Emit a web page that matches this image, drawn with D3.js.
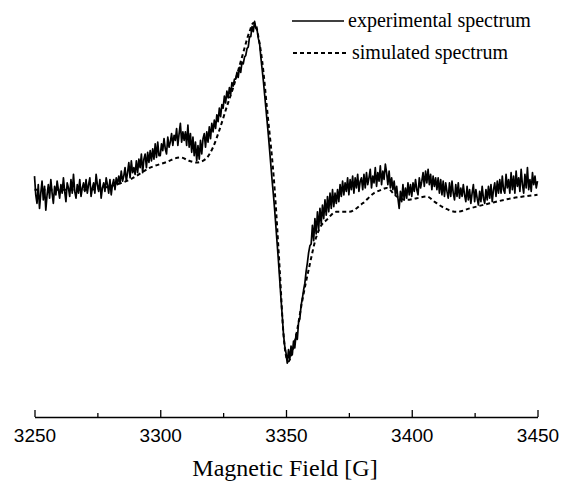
<!DOCTYPE html>
<html>
<head>
<meta charset="utf-8">
<script src="https://cdn.jsdelivr.net/npm/d3@7"></script>
<style>
    body { margin: 0; background: #fff; }
</style>
</head>
<body>
<div id="canvas"></div>
<script>
"use strict"

/*** DATA ***/
/* experimental spectrum, sampled every 0.5 G from 3250 G (intensity in a.u.) */
let expStart = 3250
let expStep = 0.5
let expIntensity = [
    7, -4, -9, 2, -12, -3, 4, -7, 1, -13, -4, 2, -6, 5, -3, -9, 1, -4, 4, -1,
    -6, 2, -3, 6, -2, -8, 3, 0, -5, 5, -3, 8, -2, -6, 2, -3, 5, -5, 0, 3,
    -2, 5, -3, 2, 6, -5, 0, 3, -3, 8, 2, -2, 5, -6, 0, 3, -2, 6, 2, -3,
    5, -4, 2, 5, -1, 6, 2, 7, 3, 10, 4, 7, 12, 4, 9, 15, 6, 16, 9, 12,
    8, 16, 9, 17, 12, 20, 9, 17, 20, 12, 21, 15, 22, 16, 23, 17, 26, 18, 27, 19,
    19, 26, 22, 29, 23, 20, 30, 24, 27, 32, 25, 31, 28, 35, 25, 32, 38, 27, 33, 28,
    33, 25, 37, 24, 32, 21, 30, 19, 27, 16, 25, 17, 28, 20, 29, 32, 24, 33, 27, 36,
    29, 38, 33, 40, 35, 43, 39, 47, 42, 49, 47, 54, 50, 57, 53, 59, 55, 62, 60, 64,
    64, 68, 65, 71, 68, 74, 73, 77, 78, 82, 83, 89, 89, 95, 92, 98, 94, 93, 88, 85,
    77, 70, 63, 55, 47, 39, 31, 22, 13, 4, -4, -13, -23, -33, -43, -54, -65, -75, -86, -93,
    -97, -103, -95, -101, -93, -98, -90, -94, -86, -89, -79, -77, -69, -65, -60, -56, -49, -44, -38, -34,
    -33, -22, -31, -18, -27, -14, -24, -12, -21, -10, -18, -7, -16, -5, -14, -3, -12, -1, -11, -3,
    -9, -1, -8, 2, -5, 4, -4, 3, -2, 6, -4, 5, -1, 7, -3, 6, 0, 8, -2, 4,
    6, -1, 8, 0, 9, 2, 6, 11, 0, 7, 3, 12, 1, 9, 4, 13, 2, 10, 5, 14,
    9, 2, 10, 0, 6, -1, 4, -4, 1, -6, -12, -2, -8, 2, -7, 0, -6, 3, -4, 2,
    -5, 3, -2, 5, -1, -4, 6, 0, 4, 9, 1, 10, 3, 11, 2, 8, -1, 7, 1, 6,
    -1, 6, -3, 5, -4, 4, -5, 3, -2, -6, 3, -5, 4, -3, -7, 2, -5, 3, -6, 0,
    -5, 2, -4, -8, 1, -7, -1, -9, -3, 2, -8, -1, -6, -10, -2, -8, 1, -6, -9, -1,
    -7, 1, -6, 2, -8, -1, 3, -5, 4, -3, 5, -3, 7, -1, -3, 8, 0, 5, -3, 9,
    -1, 7, -3, 10, 1, 6, -2, 11, 2, -3, 8, 0, 12, -1, 5, -2, 9, 2, 7, 0,
    4
]

/* simulated spectrum */
let simField = [
    3250, 3260, 3270, 3280, 3288, 3296, 3302, 3308, 3311.5, 3314.5,
    3318, 3321, 3323.5, 3326.5, 3329, 3332.5, 3335.5, 3337, 3338, 3339,
    3340.5, 3342.5, 3345.5, 3347.5, 3349, 3350.2, 3351, 3352.2, 3354, 3356.5,
    3359.3, 3362, 3364, 3366, 3370, 3375, 3380.5, 3385, 3388, 3390,
    3394, 3398, 3402, 3406, 3409, 3412, 3418, 3423, 3431, 3440, 3450
]
let simIntensity = [
    -1, -1, -1, 1, 5, 12, 15, 18, 16, 15,
    17, 24, 34, 48, 59, 77, 92, 97, 96, 89,
    75, 46, -1, -48, -86, -100, -102, -98, -87, -66,
    -46, -29, -22, -19, -14, -14, -9, -3, -1, 0,
    -5, -7, -6, -5, -8, -11, -14, -12, -9, -6, -4
]

let majorTicks = [3250, 3300, 3350, 3400, 3450]
let minorTicks = [3275, 3325, 3375, 3425]
let legendLabels = ["experimental spectrum", "simulated spectrum"]
let axisTitle = "Magnetic Field [G]"

/*** CANVAS SETUP ***/
let svgWidth = 561
let svgHeight = 481

let svg = d3.select("#canvas")
    .append("svg")
    .attr("width", svgWidth)
    .attr("height", svgHeight)
    .style("display", "block")

svg.append("rect")
    .attr("width", svgWidth)
    .attr("height", svgHeight)
    .attr("fill", "#fff")

/*** SCALES ***/
let xScale = d3.scaleLinear()
    .domain([3250, 3450])
    .range([34.5, 537.5])

let yScale = d3.scaleLinear()
    .domain([-100, 100])         // arbitrary units, baseline at 0
    .range([358, 18])

let axisY = 417

/* build point lists */
let expData = expIntensity.map(function (v, i) {
    return { field: expStart + i * expStep, value: v }
})
let simData = simIntensity.map(function (v, i) {
    return { field: simField[i], value: v }
})

let line = d3.line()
    .x(function (d) { return xScale(d.field) })
    .y(function (d) { return yScale(d.value) })

/*** SPECTRA ***/
svg.append("path")
    .datum(simData)
    .attr("fill", "none")
    .attr("stroke", "#000")
    .attr("stroke-width", 2)
    .attr("stroke-dasharray", "4,3")
    .attr("d", line.curve(d3.curveMonotoneX))

svg.append("path")
    .datum(expData)
    .attr("fill", "none")
    .attr("stroke", "#000")
    .attr("stroke-width", 1.7)
    .attr("stroke-linejoin", "round")
    .attr("d", line.curve(d3.curveLinear))

/*** X AXIS ***/
let xAxis = d3.axisBottom(xScale)
    .tickValues(majorTicks)
    .tickSizeInner(-7)           // ticks point up into the plot
    .tickSizeOuter(0)
    .tickFormat(d3.format("d"))

let gx = svg.append("g")
    .attr("transform", "translate(0," + axisY + ")")
    .call(xAxis)

gx.select(".domain").attr("stroke-width", 1.3)
gx.selectAll(".tick line").attr("stroke-width", 1.3)
gx.selectAll(".tick text")
    .attr("font-family", "'Liberation Sans', Arial, sans-serif")
    .attr("font-size", "19px")
    .attr("fill", "#000")
    .attr("y", 25)
    .attr("dy", null)

let gxMinor = svg.append("g")
    .attr("transform", "translate(0," + axisY + ")")
    .call(d3.axisBottom(xScale).tickValues(minorTicks).tickSizeInner(-4).tickSizeOuter(0).tickFormat(""))

gxMinor.select(".domain").remove()
gxMinor.selectAll(".tick line").attr("stroke-width", 1.3)

svg.append("text")
    .attr("x", 285)
    .attr("y", 476)
    .attr("text-anchor", "middle")
    .attr("font-family", "'Liberation Serif', 'Times New Roman', serif")
    .attr("font-size", "24px")
    .attr("fill", "#000")
    .text(axisTitle)

/*** LEGEND ***/
let legend = svg.append("g")

legend.append("line")
    .attr("x1", 292).attr("x2", 344)
    .attr("y1", 21).attr("y2", 21)
    .attr("stroke", "#000")
    .attr("stroke-width", 1.5)

legend.append("text")
    .attr("x", 348)
    .attr("y", 27)
    .attr("font-family", "'Liberation Serif', 'Times New Roman', serif")
    .attr("font-size", "20px")
    .attr("fill", "#000")
    .text(legendLabels[0])

legend.append("line")
    .attr("x1", 293).attr("x2", 346)
    .attr("y1", 53).attr("y2", 53)
    .attr("stroke", "#000")
    .attr("stroke-width", 2)
    .attr("stroke-dasharray", "4,3")

legend.append("text")
    .attr("x", 352)
    .attr("y", 59)
    .attr("font-family", "'Liberation Serif', 'Times New Roman', serif")
    .attr("font-size", "20px")
    .attr("fill", "#000")
    .text(legendLabels[1])
</script>
</body>
</html>
